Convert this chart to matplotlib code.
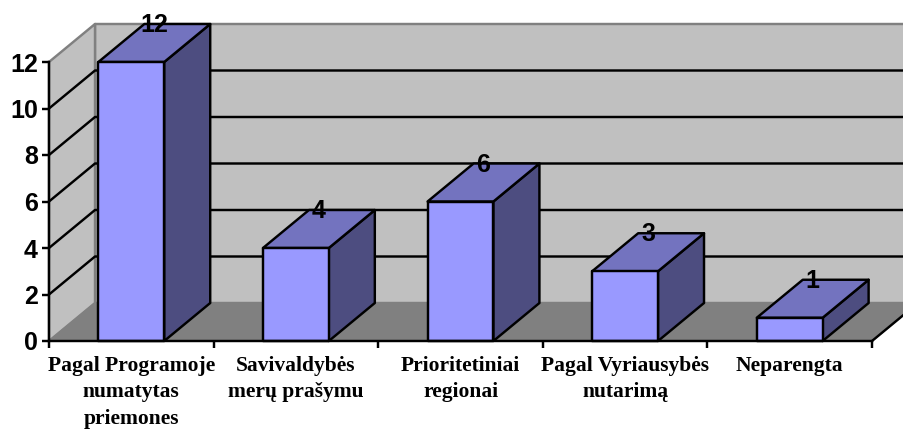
import matplotlib
matplotlib.use('Agg')
import matplotlib.pyplot as plt
from matplotlib.patches import Polygon

categories = ['Pagal Programoje\nnumatytas\npriemones', 'Savivaldybės\nmerų prašymu',
              'Prioritetiniai\nregionai', 'Pagal Vyriausybės\nnutarimą', 'Neparengta']
values = [12, 4, 6, 3, 1]
y_ticks = [0, 2, 4, 6, 8, 10, 12]

# depth of the fake 3D box, in data units (46 px across, 38 px up)
depth_x = 46 / 164.6
depth_y = 38 / 23.25
bar_margin = 0.3
line_w = 1.75

W, H = 904, 429
fig = plt.figure(figsize=(W / 100, H / 100), dpi=100)
ax = fig.add_axes([49 / W, (H - 341) / H, 823 / W, 279 / H])
ax.set_xlim(0, len(values))
ax.set_ylim(0, max(y_ticks))
ax.patch.set_visible(False)


def poly(points, color, edge='black', lw=line_w, z=2):
    ax.add_patch(Polygon(points, closed=True, facecolor=color, edgecolor=edge, linewidth=lw,
                         zorder=z, clip_on=False, joinstyle='round'))


n = len(values)
top = max(y_ticks)
# back wall, side wall, floor
poly([(depth_x, depth_y), (n + depth_x, depth_y), (n + depth_x, top + depth_y), (depth_x, top + depth_y)],
     '#C0C0C0', edge='#808080', z=1)
poly([(0, 0), (depth_x, depth_y), (depth_x, top + depth_y), (0, top)], '#C0C0C0', edge='#808080', z=1)
poly([(0, 0), (n, 0), (n + depth_x, depth_y), (depth_x, depth_y)], '#808080', edge='#808080', lw=1, z=1)
ax.plot([n, n + depth_x], [0, depth_y], color='black', lw=line_w, zorder=1.5, clip_on=False)

# grid lines on both walls
for t in y_ticks[1:-1]:
    ax.plot([0, depth_x, n + depth_x], [t, t + depth_y, t + depth_y], color='black', lw=line_w,
            zorder=1.5, clip_on=False)

# bars
for i, v in enumerate(values):
    x0 = i + bar_margin
    x1 = i + 1 - bar_margin
    poly([(x1, 0), (x1 + depth_x, depth_y), (x1 + depth_x, v + depth_y), (x1, v)], '#4D4D80', z=3)
    poly([(x0, v), (x1, v), (x1 + depth_x, v + depth_y), (x0 + depth_x, v + depth_y)], '#7373BF', z=3)
    poly([(x0, 0), (x1, 0), (x1, v), (x0, v)], '#9999FF', z=4)
    ax.text(i + 0.5 + depth_x / 2, v + depth_y - 0.05, str(v), ha='center', va='center',
            family='Liberation Sans', fontweight='bold', fontsize=18, color='black', zorder=6)

for side in ['top', 'right']:
    ax.spines[side].set_visible(False)
for side in ['left', 'bottom']:
    ax.spines[side].set_linewidth(line_w)
    ax.spines[side].set_zorder(5)

ax.set_yticks(y_ticks)
ax.set_yticklabels([str(t) for t in y_ticks], family='Liberation Sans', fontweight='bold', fontsize=18)
ax.tick_params(axis='y', length=5, width=line_w, pad=3)
ax.set_xticks(range(n + 1))
ax.set_xticklabels([])
ax.tick_params(axis='x', which='major', length=5, width=line_w)
ax.set_xticks([i + 0.5 for i in range(n)], minor=True)
ax.set_xticklabels(categories, minor=True, family='Liberation Serif', fontweight='bold', fontsize=15.5,
                   linespacing=1.45)
ax.tick_params(axis='x', which='minor', length=0, pad=10.5)

fig.savefig('out.png', dpi=100)
